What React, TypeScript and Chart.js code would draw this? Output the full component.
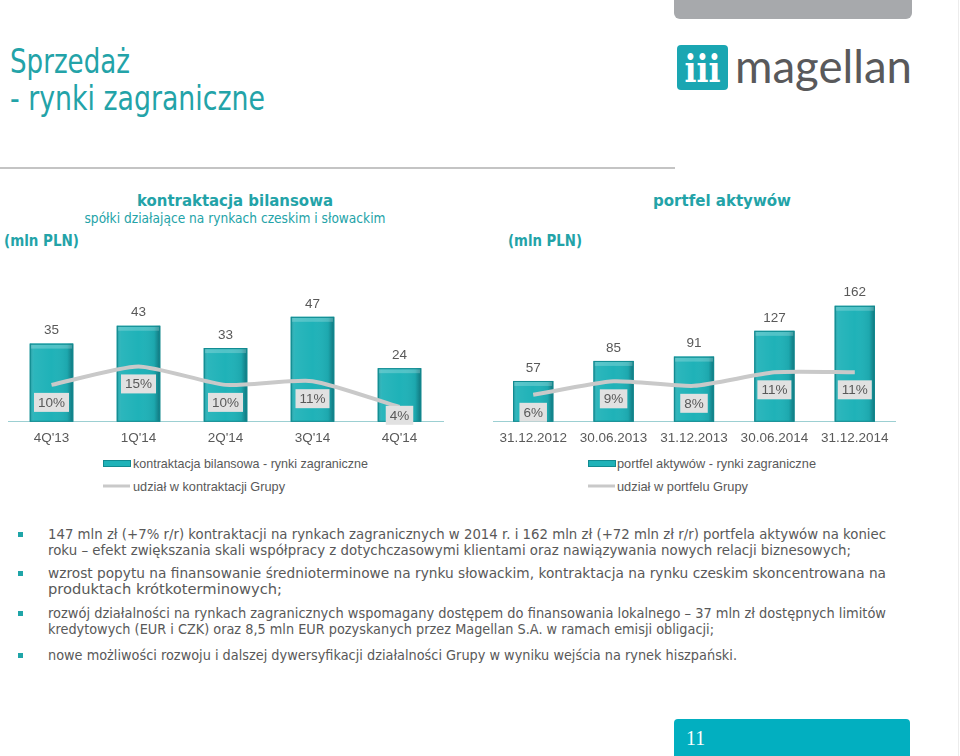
import React, { useEffect, useRef } from "react";
import { Chart, registerables } from "chart.js";

Chart.register(...registerables);

// ---------------- data ----------------
const leftCategories = ["4Q'13", "1Q'14", "2Q'14", "3Q'14", "4Q'14"];
const leftValues = [35, 43, 33, 47, 24];
const leftShares = [10, 15, 10, 11, 4];
const leftBarLabel = "kontraktacja bilansowa - rynki zagraniczne";
const leftLineLabel = "udział w kontraktacji Grupy";

const rightCategories = ["31.12.2012", "30.06.2013", "31.12.2013", "30.06.2014", "31.12.2014"];
const rightValues = [57, 85, 91, 127, 162];
const rightShares = [6, 9, 8, 11, 11];
const rightBarLabel = "portfel aktywów - rynki zagraniczne";
const rightLineLabel = "udział w portfelu Grupy";

const bulletLines = [
  ["147 mln zł (+7% r/r) kontraktacji na rynkach zagranicznych w 2014 r. i 162 mln zł (+72 mln zł r/r) portfela aktywów na koniec",
   "roku – efekt zwiększania skali współpracy z dotychczasowymi klientami oraz nawiązywania nowych relacji biznesowych;"],
  ["wzrost popytu na finansowanie średnioterminowe na rynku słowackim, kontraktacja na rynku czeskim skoncentrowana na",
   "produktach krótkoterminowych;"],
  ["rozwój działalności na rynkach zagranicznych wspomagany dostępem do finansowania lokalnego – 37 mln zł dostępnych limitów",
   "kredytowych (EUR i CZK) oraz 8,5 mln EUR pozyskanych przez Magellan S.A. w ramach emisji obligacji;"],
  ["nowe możliwości rozwoju i dalszej dywersyfikacji działalności Grupy w wyniku wejścia na rynek hiszpański."],
];

// ---------------- styles ----------------
const TEAL = "#23A3A8";
const TEXT = "#595959";
const BAR = "#1FB2B8";
const BAR_EDGE = "#118A90";
const LINE = "#C9C9C9";
const CHART_FONT = "Liberation Sans";

const bevelPlugin = {
  id: "bevel",
  afterDatasetDraw(chart: any, args: any) {
    if (args.meta.type !== "bar") return;
    const ctx = chart.ctx;
    args.meta.data.forEach((el: any) => {
      const { x, y, base, width } = el.getProps(["x", "y", "base", "width"], true);
      const left = x - width / 2;
      const h = base - y;
      const g = ctx.createLinearGradient(left, 0, left + width, 0);
      g.addColorStop(0, "rgba(0,60,70,0.30)");
      g.addColorStop(0.1, "rgba(255,255,255,0.06)");
      g.addColorStop(0.5, "rgba(255,255,255,0)");
      g.addColorStop(0.86, "rgba(0,40,50,0.08)");
      g.addColorStop(1, "rgba(0,40,50,0.45)");
      ctx.save();
      ctx.fillStyle = g;
      ctx.fillRect(left, y, width, h);
      ctx.fillStyle = "rgba(255,255,255,0.22)";
      ctx.fillRect(left + 1, y + 1, width - 2, 4);
      ctx.strokeStyle = BAR_EDGE;
      ctx.lineWidth = 1;
      ctx.strokeRect(left + 0.5, y + 0.5, width - 1, h - 1);
      ctx.restore();
    });
  },
};

const labelPlugin = {
  id: "valueLabels",
  afterDatasetsDraw(chart: any) {
    const ctx = chart.ctx;
    const baseY = chart.chartArea.bottom;
    ctx.save();
    ctx.font = `13.5px "${CHART_FONT}"`;
    ctx.textAlign = "center";
    ctx.textBaseline = "middle";
    chart.data.datasets.forEach((ds: any, di: number) => {
      const meta = chart.getDatasetMeta(di);
      meta.data.forEach((el: any, i: number) => {
        const v = ds.data[i];
        if (meta.type === "bar") {
          ctx.fillStyle = TEXT;
          ctx.fillText(String(v), el.x, el.y - 13);
        } else {
          const txt = `${v}%`;
          const w = ctx.measureText(txt).width + 8;
          const hgt = 19;
          const cy = Math.min(el.y + 17.5, baseY + 3 - hgt / 2);
          ctx.fillStyle = "#E1E1E1";
          ctx.fillRect(el.x - w / 2, cy - hgt / 2, w, hgt);
          ctx.fillStyle = TEXT;
          ctx.fillText(txt, el.x, cy + 0.5);
        }
      });
    });
    ctx.restore();
  },
};

type ChartProps = {
  labels: string[];
  values: number[];
  shares: number[];
  barLabel: string;
  lineLabel: string;
  yMax: number;
  y1Max: number;
  left: number;
  top: number;
  width: number;
  height: number;
  padLeft: number;
  padRight: number;
};

function BarLineChart(p: ChartProps) {
  const ref = useRef<HTMLCanvasElement | null>(null);
  useEffect(() => {
    if (!ref.current) return;
    const chart = new Chart(ref.current, {
      type: "bar",
      data: {
        labels: p.labels,
        datasets: [
          {
            type: "line",
            label: p.lineLabel,
            data: p.shares,
            yAxisID: "y1",
            borderColor: LINE,
            borderWidth: 4,
            pointRadius: 0,
            tension: 0.2,
            order: 0,
          } as any,
          {
            type: "bar",
            label: p.barLabel,
            data: p.values,
            yAxisID: "y",
            backgroundColor: BAR,
            borderWidth: 0,
            barPercentage: 0.5,
            categoryPercentage: 1,
            order: 1,
          },
        ],
      },
      options: {
        animation: false,
        responsive: false,
        layout: { padding: { left: p.padLeft, right: p.padRight, top: 10, bottom: 0 } },
        plugins: { legend: { display: false }, tooltip: { enabled: false } },
        scales: {
          x: {
            grid: { display: false, drawTicks: false },
            border: { display: true, color: "#9CCFD2", width: 1 },
            ticks: { color: TEXT, padding: 8, font: { family: CHART_FONT, size: 13.5 } },
          },
          y: { display: false, min: 0, max: p.yMax },
          y1: { display: false, min: 0, max: p.y1Max },
        },
      },
      plugins: [bevelPlugin, labelPlugin],
    });
    return () => chart.destroy();
  }, []);
  return (
    <canvas
      ref={ref}
      width={p.width}
      height={p.height}
      style={{ position: "absolute", left: p.left, top: p.top, width: p.width, height: p.height, display: "block" }}
    />
  );
}

type TxtProps = {
  x: number; y: number; w?: number; size: number; bold?: boolean; color?: string;
  family?: string; anchor?: "start" | "middle" | "end"; children: string;
};
function Txt({ x, y, w, size, bold, color, family, anchor, children }: TxtProps) {
  const extra: any = w ? { textLength: w, lengthAdjust: "spacingAndGlyphs" } : {};
  return (
    <text
      x={x}
      y={y}
      fontSize={size}
      fontWeight={bold ? "bold" : "normal"}
      fill={color || TEXT}
      fontFamily={family || "DejaVu Sans"}
      textAnchor={anchor || "start"}
      {...extra}
    >
      {children}
    </text>
  );
}

export default function App() {
  const bulletBaselines = [[539, 555], [578, 594], [618, 634], [660]];
  const bulletWidths = [[838, 803], [838, 234], [838, 666], [689]];
  return (
    <div style={{ position: "absolute", left: 0, top: 0, width: 960, height: 756, background: "#fff", overflow: "hidden" }}>
      <svg width={960} height={756} style={{ position: "absolute", left: 0, top: 0 }}>
        {/* decorations */}
        <rect x={674} y={-10} width={238} height={29} rx={6} fill="#A7A9AC" />
        <line x1={958.5} y1={0} x2={958.5} y2={756} stroke="#ECECEC" strokeWidth={1} />
        <line x1={0} y1={168} x2={675} y2={168} stroke="#C4C4C4" strokeWidth={2} />
        {/* title */}
        <Txt x={10} y={73} w={120} size={33} color={TEAL}>Sprzedaż</Txt>
        <Txt x={10} y={110} w={255} size={33} color={TEAL}>- rynki zagraniczne</Txt>
        {/* logo */}
        <rect x={677} y={45} width={51} height={45} rx={4} fill="#1AA6B2" />
        <Txt x={702.5} y={82} w={36} size={38} bold color="#fff" family="DejaVu Serif" anchor="middle">iii</Txt>
        <Txt x={735} y={83} w={177} size={46} color="#59595B" family="Lato">magellan</Txt>
        {/* chart headings */}
        <Txt x={235} y={206} w={196} size={16} bold color={TEAL} anchor="middle">kontraktacja bilansowa</Txt>
        <Txt x={235} y={223} w={301} size={14} color={TEAL} anchor="middle">spółki działające na rynkach czeskim i słowackim</Txt>
        <Txt x={4} y={246} w={75} size={16} bold color={TEAL}>(mln PLN)</Txt>
        <Txt x={722} y={206} w={138} size={16} bold color={TEAL} anchor="middle">portfel aktywów</Txt>
        <Txt x={508} y={246} w={74} size={16} bold color={TEAL}>(mln PLN)</Txt>
        {/* legends */}
        <rect x={103.5} y={460.5} width={27} height={6} fill={BAR} stroke={BAR_EDGE} />
        <Txt x={133} y={468} w={235} size={13.5} family={CHART_FONT}>{leftBarLabel}</Txt>
        <line x1={103} y1={486} x2={130} y2={486} stroke={LINE} strokeWidth={3} />
        <Txt x={133} y={491} w={152} size={13.5} family={CHART_FONT}>{leftLineLabel}</Txt>
        <rect x={588.5} y={460.5} width={27} height={6} fill={BAR} stroke={BAR_EDGE} />
        <Txt x={617} y={468} w={199} size={13.5} family={CHART_FONT}>{rightBarLabel}</Txt>
        <line x1={588} y1={486} x2={615} y2={486} stroke={LINE} strokeWidth={3} />
        <Txt x={617} y={491} w={131} size={13.5} family={CHART_FONT}>{rightLineLabel}</Txt>
        {/* bullets */}
        {bulletLines.map((lines, bi) => (
          <g key={bi}>
            <rect x={18} y={bulletBaselines[bi][0] - 7} width={5} height={5} fill="#1FA5A8" />
            {lines.map((ln, li) => (
              <Txt key={li} x={48} y={bulletBaselines[bi][li]} w={bulletWidths[bi][li]} size={13.5}>{ln}</Txt>
            ))}
          </g>
        ))}
        {/* page number */}
        <rect x={674} y={719} width={236} height={45} rx={4} fill="#02AFC0" />
        <Txt x={686} y={745} w={19} size={21} color="#fff" family="Liberation Serif">11</Txt>
      </svg>
      <BarLineChart
        labels={leftCategories}
        values={leftValues}
        shares={leftShares}
        barLabel={leftBarLabel}
        lineLabel={leftLineLabel}
        yMax={59}
        y1Max={35.7}
        left={0}
        top={280}
        width={460}
        height={174}
        padLeft={8}
        padRight={17}
      />
      <BarLineChart
        labels={rightCategories}
        values={rightValues}
        shares={rightShares}
        barLabel={rightBarLabel}
        lineLabel={rightLineLabel}
        yMax={184}
        y1Max={29.3}
        left={485}
        top={280}
        width={430}
        height={174}
        padLeft={8}
        padRight={20}
      />
    </div>
  );
}
